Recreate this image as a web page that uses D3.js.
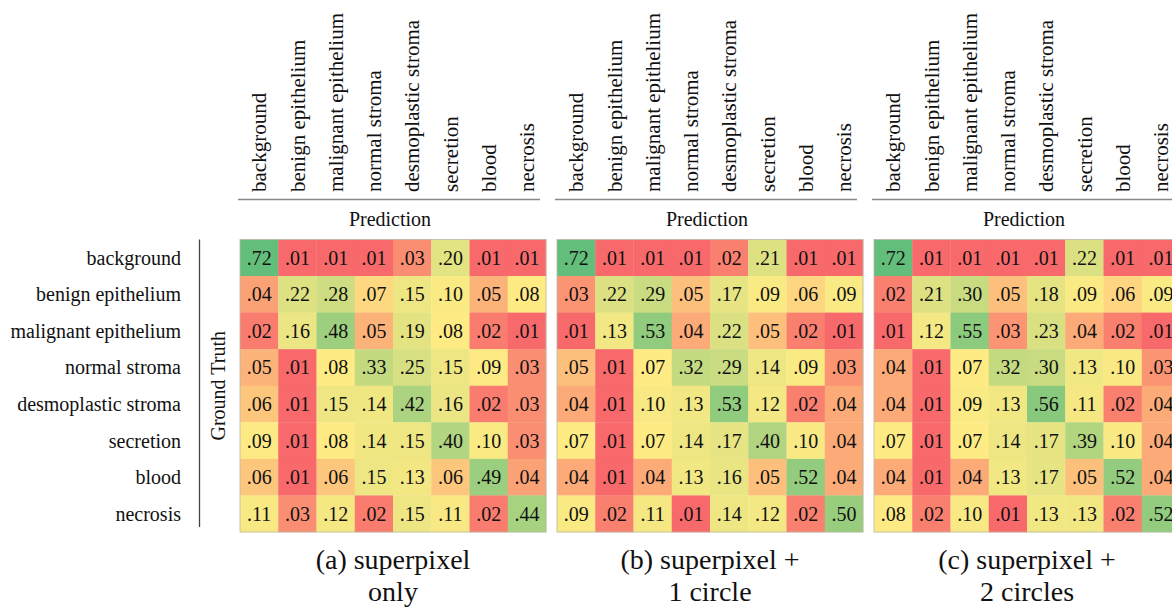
<!DOCTYPE html>
<html>
<head>
<meta charset="utf-8">
<script src="https://cdn.jsdelivr.net/npm/d3@7"></script>
<style>
  html, body { margin: 0; padding: 0; background: #fff; }
  svg { display: block; font-family: "Liberation Serif", "Times New Roman", serif; }
</style>
</head>
<body>
<svg id="chart" width="1172" height="608"></svg>
<script>
// Class names (rows = ground truth, columns = prediction)
const classes = ["background", "benign epithelium", "malignant epithelium", "normal stroma",
                 "desmoplastic stroma", "secretion", "blood", "necrosis"];

// Row-normalised confusion matrices
const superpixelOnly = [
  [.72, .01, .01, .01, .03, .20, .01, .01],
  [.04, .22, .28, .07, .15, .10, .05, .08],
  [.02, .16, .48, .05, .19, .08, .02, .01],
  [.05, .01, .08, .33, .25, .15, .09, .03],
  [.06, .01, .15, .14, .42, .16, .02, .03],
  [.09, .01, .08, .14, .15, .40, .10, .03],
  [.06, .01, .06, .15, .13, .06, .49, .04],
  [.11, .03, .12, .02, .15, .11, .02, .44]
];
const oneCircle = [
  [.72, .01, .01, .01, .02, .21, .01, .01],
  [.03, .22, .29, .05, .17, .09, .06, .09],
  [.01, .13, .53, .04, .22, .05, .02, .01],
  [.05, .01, .07, .32, .29, .14, .09, .03],
  [.04, .01, .10, .13, .53, .12, .02, .04],
  [.07, .01, .07, .14, .17, .40, .10, .04],
  [.04, .01, .04, .13, .16, .05, .52, .04],
  [.09, .02, .11, .01, .14, .12, .02, .50]
];
const twoCircles = [
  [.72, .01, .01, .01, .01, .22, .01, .01],
  [.02, .21, .30, .05, .18, .09, .06, .09],
  [.01, .12, .55, .03, .23, .04, .02, .01],
  [.04, .01, .07, .32, .30, .13, .10, .03],
  [.04, .01, .09, .13, .56, .11, .02, .04],
  [.07, .01, .07, .14, .17, .39, .10, .04],
  [.04, .01, .04, .13, .17, .05, .52, .04],
  [.08, .02, .10, .01, .13, .13, .02, .52]
];

const captions = [
  ["(a) superpixel", "only"],
  ["(b) superpixel +", "1 circle"],
  ["(c) superpixel +", "2 circles"]
];
const panels = [superpixelOnly, oneCircle, twoCircles];

const svg = d3.select("#chart");
svg.append("rect").attr("width", 1172).attr("height", 608).attr("fill", "#fff");

const panelLeft = [240, 557, 874];
const gridW = 306, gridTop = 239.5, gridBottom = 532;

const y = d3.scaleBand().domain(d3.range(classes.length)).range([gridTop, gridBottom]);

// Row labels (ground truth)
svg.append("g").selectAll("text").data(classes).join("text")
  .attr("x", 181)
  .attr("y", (d, i) => y(i) + y.bandwidth() / 2)
  .attr("dy", "0.35em")
  .attr("text-anchor", "end")
  .attr("font-size", 20)
  .attr("fill", "#111")
  .text(d => d);

// Ground truth axis rule and title
svg.append("line")
  .attr("x1", 199.5).attr("x2", 199.5)
  .attr("y1", gridTop).attr("y2", 527)
  .attr("stroke", "#444").attr("stroke-width", 1.3);
svg.append("text")
  .attr("transform", `translate(218,${(gridTop + gridBottom) / 2}) rotate(-90)`)
  .attr("dy", "0.35em")
  .attr("text-anchor", "middle")
  .attr("font-size", 20)
  .attr("fill", "#111")
  .text("Ground Truth");

panels.forEach((m, p) => {
  const x0 = panelLeft[p];
  const x = d3.scaleBand().domain(d3.range(classes.length)).range([x0, x0 + gridW]);

  // three-colour scale: min red, median yellow, max green
  const vals = m.flat().slice().sort(d3.ascending);
  const color = d3.scaleLinear()
    .domain([d3.min(vals), d3.quantile(vals, 0.5), d3.max(vals)])
    .range(["#F8696B", "#FFEB84", "#63BE7B"])
    .interpolate(d3.interpolateRgb);

  const g = svg.append("g");

  // Column labels (prediction)
  g.selectAll("text.col").data(classes).join("text")
    .attr("class", "col")
    .attr("transform", (d, i) => `translate(${x(i) + x.bandwidth() / 2},192) rotate(-90)`)
    .attr("dy", "0.35em")
    .attr("font-size", 21)
    .attr("fill", "#111")
    .text(d => d);

  g.append("line")
    .attr("x1", x0 - 2).attr("x2", x0 + 300)
    .attr("y1", 199.5).attr("y2", 199.5)
    .attr("stroke", "#888").attr("stroke-width", 1.5);

  g.append("text")
    .attr("x", x0 + gridW / 2 - 3)
    .attr("y", 226)
    .attr("text-anchor", "middle")
    .attr("font-size", 20)
    .attr("fill", "#111")
    .text("Prediction");

  const cells = m.flatMap((row, r) => row.map((v, c) => ({ r, c, v })));

  g.selectAll("rect.cell").data(cells).join("rect")
    .attr("class", "cell")
    .attr("x", d => x(d.c))
    .attr("y", d => y(d.r))
    .attr("width", x.bandwidth() + 0.3)
    .attr("height", y.bandwidth() + 0.3)
    .attr("fill", d => color(d.v));

  g.append("rect")
    .attr("x", x0).attr("y", gridTop)
    .attr("width", gridW).attr("height", gridBottom - gridTop)
    .attr("fill", "none").attr("stroke", "#b8b8a8").attr("stroke-width", 0.8);

  g.selectAll("text.val").data(cells).join("text")
    .attr("class", "val")
    .attr("x", d => x(d.c) + x.bandwidth() / 2)
    .attr("y", d => y(d.r) + y.bandwidth() / 2)
    .attr("dy", "0.35em")
    .attr("text-anchor", "middle")
    .attr("font-size", 20)
    .attr("fill", "#111")
    .text(d => d3.format(".2f")(d.v).replace(/^0/, ""));

  // Caption
  const cap = g.append("text")
    .attr("text-anchor", "middle")
    .attr("font-size", 28)
    .attr("fill", "#111");
  captions[p].forEach((line, k) => {
    cap.append("tspan")
      .attr("x", x0 + gridW / 2)
      .attr("y", 569 + k * 32)
      .text(line);
  });
});
</script>
</body>
</html>
